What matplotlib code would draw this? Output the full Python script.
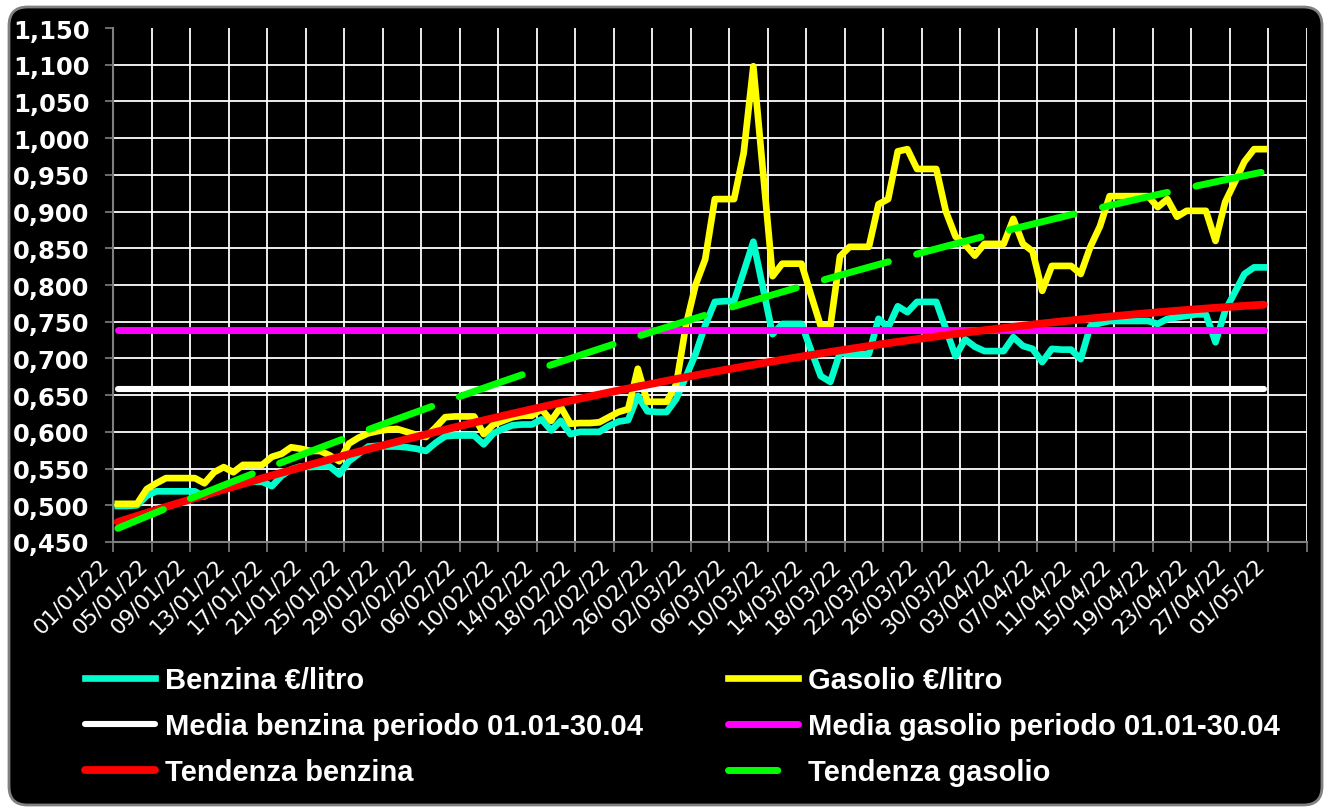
import numpy as np
import pandas as pd
import matplotlib
matplotlib.use('Agg')
import matplotlib.pyplot as plt
import matplotlib.transforms as mtransforms
from matplotlib.patches import FancyBboxPatch

# prezzi giornalieri 01/01/22 - 30/04/22 (euro/litro)
benzina = [
    0.499, 0.499, 0.500, 0.513, 0.519, 0.519, 0.519, 0.519, 0.519, 0.512,
    0.520, 0.526, 0.530, 0.532, 0.532, 0.532, 0.526, 0.540, 0.549, 0.553,
    0.552, 0.553, 0.553, 0.542, 0.560, 0.570, 0.580, 0.581, 0.580, 0.580,
    0.579, 0.577, 0.574, 0.585, 0.594, 0.595, 0.595, 0.595, 0.583, 0.598,
    0.604, 0.609, 0.610, 0.610, 0.617, 0.602, 0.615, 0.597, 0.600, 0.600,
    0.600, 0.608, 0.614, 0.616, 0.649, 0.628, 0.627, 0.627, 0.645, 0.675,
    0.706, 0.745, 0.777, 0.778, 0.778, 0.818, 0.859, 0.796, 0.733, 0.747,
    0.747, 0.747, 0.711, 0.676, 0.668, 0.708, 0.706, 0.706, 0.706, 0.754,
    0.742, 0.771, 0.763, 0.777, 0.777, 0.777, 0.740, 0.703, 0.726, 0.716,
    0.710, 0.710, 0.710, 0.729, 0.717, 0.713, 0.695, 0.713, 0.712, 0.712,
    0.699, 0.744, 0.748, 0.751, 0.751, 0.751, 0.751, 0.751, 0.747, 0.754,
    0.756, 0.758, 0.760, 0.760, 0.722, 0.765, 0.790, 0.815, 0.824, 0.824,
]
gasolio = [
    0.502, 0.502, 0.502, 0.522, 0.530, 0.537, 0.537, 0.537, 0.537, 0.530,
    0.545, 0.552, 0.545, 0.555, 0.555, 0.555, 0.566, 0.570, 0.579, 0.577,
    0.574, 0.574, 0.568, 0.560, 0.584, 0.592, 0.598, 0.601, 0.603, 0.604,
    0.600, 0.596, 0.593, 0.606, 0.620, 0.621, 0.621, 0.621, 0.597, 0.610,
    0.615, 0.620, 0.622, 0.622, 0.631, 0.615, 0.634, 0.611, 0.612, 0.612,
    0.613, 0.620, 0.627, 0.631, 0.686, 0.641, 0.641, 0.641, 0.665, 0.745,
    0.800, 0.835, 0.917, 0.917, 0.917, 0.980, 1.098, 0.955, 0.812, 0.829,
    0.829, 0.829, 0.786, 0.744, 0.744, 0.839, 0.852, 0.852, 0.852, 0.910,
    0.917, 0.982, 0.985, 0.958, 0.958, 0.958, 0.900, 0.866, 0.855, 0.840,
    0.856, 0.856, 0.856, 0.890, 0.856, 0.846, 0.792, 0.826, 0.826, 0.826,
    0.815, 0.852, 0.880, 0.921, 0.921, 0.921, 0.921, 0.921, 0.906, 0.917,
    0.893, 0.901, 0.901, 0.901, 0.860, 0.913, 0.940, 0.968, 0.985, 0.985,
]
date_tick = pd.date_range('2022-01-01', '2022-05-05', freq='4D')
y_tick = np.round(np.arange(0.45, 1.1501, 0.05), 3)

labels = ['Benzina €/litro', 'Media benzina periodo 01.01-30.04', 'Tendenza benzina',
          'Gasolio €/litro', 'Media gasolio periodo 01.01-30.04', 'Tendenza gasolio']

# giorni come in excel: punto al centro della giornata
x = np.arange(len(benzina)) + 0.5
benz = np.array(benzina)
gas = np.array(gasolio)
media_b = np.full_like(x, benz.mean())
media_g = np.full_like(x, gas.mean())
# tendenza polinomiale di 2° grado
trend_b = np.polyval(np.polyfit(x, benz, 2), x)
trend_g = np.polyval(np.polyfit(x, gas, 2), x)

W, H = 1325, 812
fig = plt.figure(figsize=(W / 100, H / 100), dpi=100, facecolor='white')
bg = FancyBboxPatch((9 / W, 6 / H), 1313 / W, 798 / H,
                    boxstyle='round,pad=0,rounding_size=0.014', mutation_aspect=W / H,
                    transform=fig.transFigure, facecolor='black', edgecolor='#808080',
                    linewidth=2, zorder=-5)
fig.add_artist(bg)

ax = fig.add_axes([113 / W, (H - 543) / H, 1194 / W, 514 / H])
ax.set_facecolor('black')

l1, = ax.plot(x, benz, color='#00FFCC', lw=4.8, solid_joinstyle='round', zorder=3)
l2, = ax.plot(x, gas, color='#FFFF00', lw=4.8, solid_joinstyle='round', zorder=4)
l3, = ax.plot(x, media_b, color='white', lw=4.4, solid_capstyle='round', zorder=5)
l4, = ax.plot(x, media_g, color='#FF00FF', lw=5.0, solid_capstyle='round', zorder=6)
l5, = ax.plot(x, trend_b, color='#FF0000', lw=5.6, solid_capstyle='round', zorder=7)
l6, = ax.plot(x, trend_g, color='#00FF00', lw=5.0, dash_capstyle='round',
              linestyle=(2.5, (9.6, 4.2)), zorder=8)

ax.set_xlim(0, 124)
ax.set_ylim(0.45, 1.15)
ax.set_xticks(np.arange(0, 125, 4))
xl = [d.strftime('%d/%m/%y') for d in date_tick]
xl[-1] = ''
ax.set_xticklabels(xl, rotation=45, ha='right', va='top', color='white',
                   fontsize=15.5, family='DejaVu Sans')
ax.set_yticks(y_tick)
ax.set_yticklabels([f'{v:.3f}'.replace('.', ',') for v in y_tick], color='white',
                   fontsize=17.5, fontweight='bold', family='DejaVu Sans')
off = mtransforms.ScaledTranslation(0.12, 0, fig.dpi_scale_trans)
for t in ax.get_xticklabels():
    t.set_transform(t.get_transform() + off)

ax.tick_params(axis='y', length=6, width=1.2, color='#808080', pad=11)
ax.tick_params(axis='x', length=7, width=1.2, color='#808080', pad=2)
ax.grid(True, color='white', lw=1.3)
ax.set_axisbelow(True)
gl = ax.yaxis.get_gridlines()
gl[0].set_visible(False)
gl[-1].set_visible(False)
for s in ['top', 'right']:
    ax.spines[s].set_visible(False)
for s in ['left', 'bottom']:
    ax.spines[s].set_color('#808080')
    ax.spines[s].set_linewidth(1.5)

font = {'family': 'Liberation Sans', 'weight': 'bold', 'size': 21}
kw = dict(loc='center left', frameon=False, prop=font, labelcolor='white',
          handlelength=2.4, handletextpad=0.34, labelspacing=0.62,
          borderpad=0, borderaxespad=0)
leg1 = fig.legend([l1, l3, l5], labels[:3], bbox_to_anchor=(85 / W, (H - 727) / H), **kw)
leg2 = fig.legend([l2, l4, l6], labels[3:], bbox_to_anchor=(728 / W, (H - 727) / H), **kw)

fig.savefig('out.png', dpi=100, facecolor='white')
